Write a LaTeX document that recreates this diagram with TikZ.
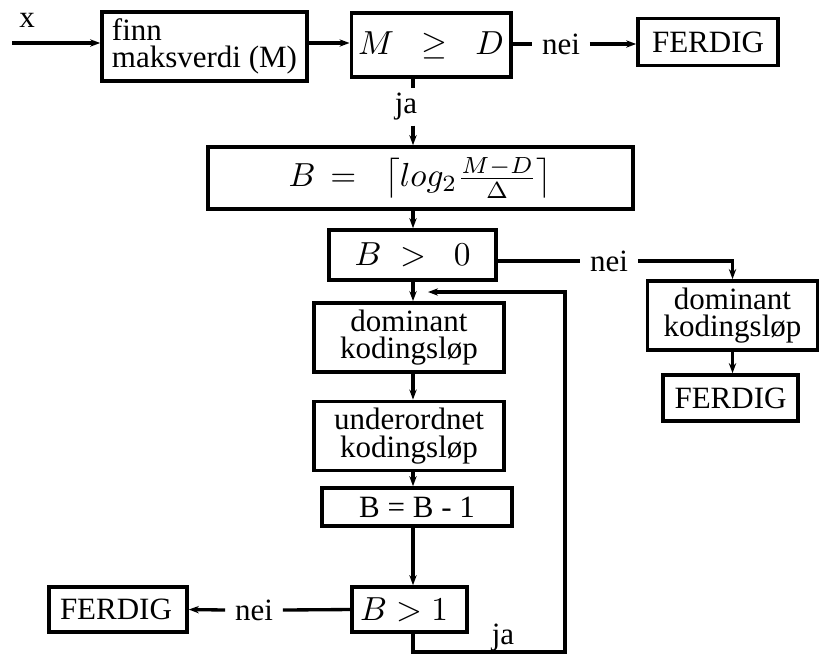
\documentclass[tikz,border=0pt]{standalone}
\usepackage{fontspec}
\setmainfont{Liberation Serif}
\usetikzlibrary{arrows.meta}

\begin{document}
\begin{tikzpicture}[x=0.3pt,y=-0.3pt,line width=1pt,
        box/.style={draw,line width=1.1pt,inner sep=2pt,align=center,font=\fontsize{9.3}{8.3}\selectfont},
        mbox/.style={box,font=\fontsize{10}{12}\selectfont},
        lbl/.style={inner xsep=2.5pt,inner ysep=1pt,font=\fontsize{9.3}{8.3}\selectfont},
        arr/.style={-{Stealth[length=3pt,width=2.2pt]}}]
        \useasboundingbox (0,0) rectangle (819,654);
        \coordinate (mainx) at (413,0);
        \coordinate (xin) at (12,43);
        \coordinate (loopbot) at (565,652);
        \coordinate (looptop) at (565,292);
        \coordinate (loopend) at (428,292);
        \node[box,align=left,minimum width=61.5pt,minimum height=20.1pt] (finn) at (204.5,46.5) {finn\\maksverdi (M)};
        \node[mbox,minimum width=47.4pt,minimum height=19.2pt] (cmp1) at (431,45) {$M\;\;\geq\;\;D$};
        \node[box,minimum width=42pt,minimum height=14.1pt] (ferdig1) at (708,42) {FERDIG};
        \node[mbox,minimum width=127.5pt,minimum height=18.6pt] (beq) at (420.5,178) {$B\,=\;\;\left\lceil log_2\frac{M-D}{\Delta}\right\rceil$};
        \node[mbox,minimum width=50.1pt,minimum height=15pt] (bgt0) at (412.5,255) {$B\;>\;\;0$};
        \node[box,minimum width=51pt,minimum height=18.3pt] (dom2) at (732.5,315.5) {dominant\\kodingsløp};
        \node[box,minimum width=40.5pt,minimum height=13.8pt] (ferdig2) at (730.5,398) {FERDIG};
        \node[box,minimum width=57pt,minimum height=18.3pt] (dom1) at (409,337.5) {dominant\\kodingsløp};
        \node[box,minimum width=57pt,minimum height=18pt] (under) at (409,436) {underordnet\\kodingsløp};
        \node[box,minimum width=57pt,minimum height=11.4pt] (bdec) at (417,507) {B = B - 1};
        \node[mbox,align=left,text width=29.7pt,inner xsep=2.4pt,minimum height=13.5pt] (bgt1) at (409.5,609.5) {$B>1$};
        \node[box,align=left,text width=34.8pt,inner xsep=3.3pt,minimum height=13.5pt] (ferdig3) at (118,609.5) {FERDIG};
        \node[lbl] (xlab) at (27,20) {x};
        \node[lbl] (ja1) at (406,107) {ja};
        \node[lbl] (nei1) at (561,44) {nei};
        \node[lbl] (nei2) at (609,261) {nei};
        \node[lbl] (nei3) at (254,610) {nei};
        \node[lbl] (ja2) at (503,638) {ja};
        \draw[arr] (xin) -- (finn.west |- xin);
        \draw[arr] (finn.east |- xin) -- (cmp1.west |- xin);
        \draw (cmp1.east |- nei1) -- (nei1.west);
        \draw[arr] (nei1.east) -- (ferdig1.west |- nei1);
        \draw (cmp1.south -| mainx) -- (ja1.north -| mainx);
        \draw[arr] (ja1.south -| mainx) -- (beq.north -| mainx);
        \draw[arr] (beq.south -| mainx) -- (bgt0.north -| mainx);
        \draw (bgt0.east |- nei2) -- (nei2.west);
        \draw[arr] (nei2.east) -| (dom2.north);
        \draw[arr] (dom2.south) -- (dom2.south |- ferdig2.north);
        \draw[arr] (bgt0.south -| mainx) -- (dom1.north -| mainx);
        \draw[arr] (dom1.south -| mainx) -- (under.north -| mainx);
        \draw[arr] (under.south -| mainx) -- (bdec.north -| mainx);
        \draw[arr] (bdec.south -| mainx) -- (bgt1.north -| mainx);
        \draw (bgt1.west) -- (nei3.east);
        \draw[arr] (nei3.west) -- (ferdig3.east);
        \draw[arr] (bgt1.south -| mainx) |- (loopbot) -- (looptop) -- (loopend);
      \end{tikzpicture}
\end{document}
